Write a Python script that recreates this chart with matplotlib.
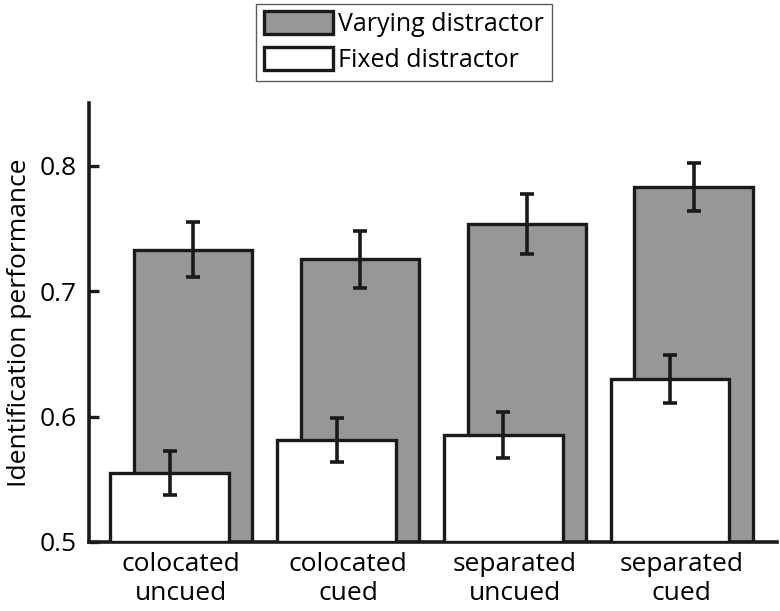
import numpy as np
import matplotlib
matplotlib.use("Agg")
import matplotlib.pyplot as plt

plt.rcParams['font.family'] = ['Open Sans', 'DejaVu Sans']

categories = ["colocated\nuncued", "colocated\ncued", "separated\nuncued", "separated\ncued"]
varying = [0.733, 0.7255, 0.754, 0.783]
varying_err = [0.022, 0.0225, 0.024, 0.019]
fixed = [0.555, 0.581, 0.585, 0.630]
fixed_err = [0.0173, 0.0175, 0.0184, 0.019]

gray = '#979797'
edge = '#1a1a1a'

fig = plt.figure(figsize=(7.8, 6.11), dpi=100)
ax = fig.add_axes([0.114, 0.113, 0.882, 0.718])

x = np.arange(1, len(categories) + 1)
width = 0.71
offset = 0.07

bars_v = ax.bar(x + offset, np.array(varying) - 0.5, width, bottom=0.5, color=gray,
                edgecolor=edge, linewidth=2.4, label='Varying distractor', zorder=2)
ax.errorbar(x + offset, varying, yerr=varying_err, fmt='none', ecolor=edge,
            elinewidth=2.6, capsize=5, capthick=2.6, zorder=3)
bars_f = ax.bar(x - offset, np.array(fixed) - 0.5, width, bottom=0.5, color='white',
                edgecolor=edge, linewidth=2.4, label='Fixed distractor', zorder=4)
ax.errorbar(x - offset, fixed, yerr=fixed_err, fmt='none', ecolor=edge,
            elinewidth=2.6, capsize=5, capthick=2.6, zorder=5)

ax.set_xlim(0.446, 4.569)
ax.set_ylim(0.5, 0.85)
ax.set_yticks([0.5, 0.6, 0.7, 0.8])
ax.set_yticklabels(['0.5', '0.6', '0.7', '0.8'])
ax.set_xticks(x)
ax.set_xticklabels(categories, linespacing=1.25)
ax.tick_params(axis='y', direction='in', length=7, width=2.4, labelsize=19, pad=9, color=edge)
ax.tick_params(axis='x', length=0, labelsize=19, pad=7)
for s in ['top', 'right']:
    ax.spines[s].set_visible(False)
for s in ['left', 'bottom']:
    ax.spines[s].set_linewidth(2.6)
    ax.spines[s].set_color(edge)
ax.set_ylabel('Identification performance', fontsize=19)
ax.yaxis.set_label_coords(-0.083, 0.5)

leg = fig.legend(handles=[bars_v, bars_f], loc='upper center', bbox_to_anchor=(0.518, 0.994),
                 fontsize=18, frameon=True, fancybox=False, edgecolor='#333333',
                 handlelength=2.75, handleheight=1.05, handletextpad=0.22, labelspacing=0.4,
                 borderpad=0.3, borderaxespad=0)
leg.get_frame().set_linewidth(1.0)

fig.savefig('out.png', dpi=100)
